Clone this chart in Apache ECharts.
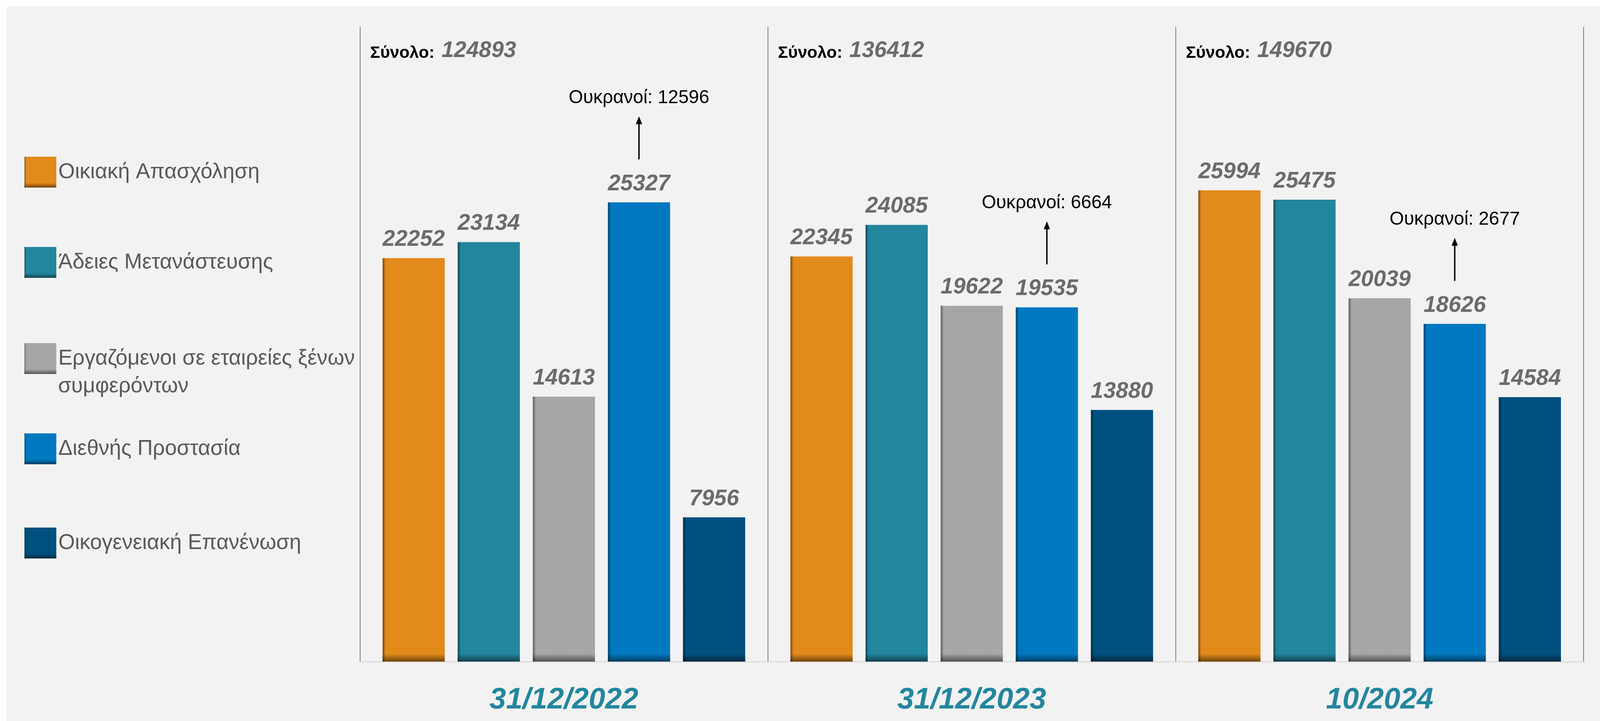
<!DOCTYPE html>
<html>
<head>
<meta charset="utf-8">
<script src="https://cdn.jsdelivr.net/npm/echarts@6/dist/echarts.min.js"></script>
<style>
html,body{margin:0;padding:0;background:#ffffff;overflow:hidden;width:100%;height:100%;}
#chart{position:absolute;left:0;top:0;}
</style>
</head>
<body>
<div id="chart"></div>
<script>
// ---- data ----
const categories = ['31/12/2022', '31/12/2023', '10/2024'];
const seriesNames = [
  'Οικιακή Απασχόληση',
  'Άδειες Μετανάστευσης',
  'Εργαζόμενοι σε εταιρείες ξένων\nσυμφερόντων',
  'Διεθνής Προστασία',
  'Οικογενειακή Επανένωση'
];
const oikiakiApasxolisi = [22252, 22345, 25994];
const adeiesMetanasteusis = [23134, 24085, 25475];
const ergazomenoiXenon = [14613, 19622, 20039];
const diethnisProstasia = [25327, 19535, 18626];
const oikogeneiakiEpanenosi = [7956, 13880, 14584];
const totals = [124893, 136412, 149670];
const ukrainians = [12596, 6664, 2677];
const totalLabel = 'Σύνολο:';
const ukrLabel = 'Ουκρανοί: ';

// ---- the design is 4574x1845; map it onto the actual window ----
const W0 = 4574, H0 = 1845;
const W = window.innerWidth || W0, H = window.innerHeight || H0;
const sx = W / W0, sy = H / H0, sf = Math.min(sx, sy);
const X = v => v * sx, Y = v => v * sy, F = v => v * sf;
const box = document.getElementById('chart');
box.style.width = W + 'px';
box.style.height = H + 'px';

// ---- styles ----
const baseColors = ['#E28A1A', '#22869D', '#A6A6A6', '#0079C0', '#00507F'];
const darkColors = ['#7a4708', '#0e4654', '#5c5c5c', '#003f68', '#002a44'];
const seriesData = [oikiakiApasxolisi, adeiesMetanasteusis, ergazomenoiXenon, diethnisProstasia, oikogeneiakiEpanenosi];
const FONT = '"Liberation Sans", Arial, sans-serif';

function fill(i) {
  return new echarts.graphic.LinearGradient(0, 0, 1, 0, [
    { offset: 0, color: darkColors[i] },
    { offset: 0.05, color: baseColors[i] },
    { offset: 1, color: baseColors[i] }
  ]);
}
function bottomShade() {
  return new echarts.graphic.LinearGradient(0, 0, 0, 1, [
    { offset: 0, color: 'rgba(0,0,0,0)' },
    { offset: 1, color: 'rgba(0,0,0,0.5)' }
  ]);
}

const chart = echarts.init(box, null, { renderer: 'canvas', width: W, height: H });

const legendTops = [401, 632, 878, 1109, 1350].map(Y);
const LEG_FS = F(61), LEG_LH = F(71), LEG_L = X(70), LEG_W = X(91), LEG_H = Y(79);
const legends = seriesNames.map((n, i) => ({
  data: [n],
  left: LEG_L,
  top: legendTops[i],
  orient: 'vertical',
  padding: 0,
  itemWidth: LEG_W,
  itemHeight: LEG_H,
  icon: 'rect',
  selectedMode: false,
  formatter: name => name.split('\n')[0],
  textStyle: { fontFamily: FONT, fontSize: LEG_FS, color: '#595959', lineHeight: LEG_LH }
}));

const series = seriesNames.map((n, i) => ({
  name: n,
  type: 'bar',
  data: seriesData[i],
  barGap: '20.8%',
  barCategoryGap: '11.1%',
  itemStyle: { color: fill(i) },
  label: {
    show: true,
    position: 'top',
    distance: Y(47) - F(32),
    fontFamily: FONT,
    fontSize: F(64),
    lineHeight: F(64),
    fontWeight: 'bold',
    fontStyle: 'italic',
    color: '#6B6B6B'
  }
}));

chart.setOption({
  animation: false,
  backgroundColor: '#ffffff',
  legend: legends,
  grid: { left: X(1029), right: X(47), top: Y(69), bottom: Y(152), containLabel: false },
  xAxis: {
    type: 'category',
    data: categories,
    axisTick: { show: false },
    axisLine: { show: true, lineStyle: { color: '#d9d9d9', width: Math.max(1, F(3)) } },
    splitLine: { show: true, lineStyle: { color: '#6b6b6b', width: Math.max(1, F(2)) } },
    axisLabel: {
      margin: Y(99) - F(42.5),
      fontFamily: FONT,
      fontSize: F(85),
      lineHeight: F(85),
      fontWeight: 'bold',
      fontStyle: 'italic',
      color: '#23869E'
    }
  },
  yAxis: { type: 'value', min: 0, max: 35000, show: false },
  series: series
});

// ---- annotations computed from the library's scales ----
function addAnnotations() {
  const elements = [];
  elements.push({
    type: 'rect', z: -100, silent: true,
    shape: { x: X(19), y: Y(17), width: W - X(19), height: H - Y(17) },
    style: { fill: '#f2f2f2' }
  });
  seriesNames.forEach((n, i) => {
    // continuation line of the two-line legend entry
    const lines = n.split('\n');
    for (let k = 1; k < lines.length; k++) {
      elements.push({
        type: 'text', x: LEG_L + LEG_W + 5 * sf, y: legendTops[i] + LEG_H / 2 + Y(71) * k, silent: true,
        style: { text: lines[k], font: LEG_FS + 'px ' + FONT, fill: '#595959', verticalAlign: 'middle', align: 'left' }
      });
    }
    // bottom shading of legend icon
    elements.push({
      type: 'rect', silent: true, z: 10,
      shape: { x: LEG_L, y: legendTops[i] + LEG_H - Y(12), width: LEG_W, height: Y(12) },
      style: { fill: bottomShade() }
    });
    // bottom shading of every bar, from the library's bar layout
    const d = chart.getModel().getSeriesByIndex(i).getData();
    for (let j = 0; j < d.count(); j++) {
      const l = d.getItemLayout(j);
      const base = Math.max(l.y, l.y + l.height);
      elements.push({
        type: 'rect', silent: true, z: 10,
        shape: { x: l.x, y: base - Y(20), width: l.width, height: Y(20) },
        style: { fill: bottomShade() }
      });
    }
  });

  const p0 = chart.convertToPixel({ gridIndex: 0 }, [0, 0]);
  const p1 = chart.convertToPixel({ gridIndex: 0 }, [1, 0]);
  const catW = p1[0] - p0[0];
  const blueData = chart.getModel().getSeriesByIndex(3).getData();

  categories.forEach((c, i) => {
    const center = chart.convertToPixel({ gridIndex: 0 }, [i, 0])[0];
    const x0 = center - catW / 2 + X(29);
    const tFont = 'bold ' + F(48) + 'px ' + FONT;
    const w = new echarts.graphic.Text({ style: { text: totalLabel, font: tFont } }).getBoundingRect().width;
    elements.push({
      type: 'text', x: x0, y: Y(136), silent: true,
      style: { text: totalLabel, font: tFont, fill: '#000000', verticalAlign: 'middle', align: 'left' }
    });
    elements.push({
      type: 'text', x: x0 + w + X(20), y: Y(130), silent: true,
      style: { text: String(totals[i]), font: 'italic bold ' + F(64) + 'px ' + FONT, fill: '#6B6B6B', verticalAlign: 'middle', align: 'left' }
    });

    // Ukrainian annotation above the Διεθνής Προστασία bar
    const lay = blueData.getItemLayout(i);
    const bx = lay.x + lay.width / 2;
    const top = Math.min(lay.y, lay.y + lay.height);
    const bottomY = top - Y(110);
    const tipY = bottomY - Y(110);
    elements.push({
      type: 'line', silent: true,
      shape: { x1: bx, y1: bottomY, x2: bx, y2: tipY + Y(14) },
      style: { stroke: '#000000', lineWidth: Math.max(1, F(4)) }
    });
    elements.push({
      type: 'polygon', silent: true,
      shape: { points: [[bx - X(9), tipY + Y(20)], [bx + X(9), tipY + Y(20)], [bx, tipY]] },
      style: { fill: '#000000' }
    });
    elements.push({
      type: 'text', x: bx, y: tipY - Y(47), silent: true,
      style: { text: ukrLabel + ukrainians[i], font: F(53) + 'px ' + FONT, fill: '#000000', align: 'center', verticalAlign: 'middle' }
    });
  });
  chart.setOption({ graphic: { elements: elements } });
}
addAnnotations();
</script>
</body>
</html>
